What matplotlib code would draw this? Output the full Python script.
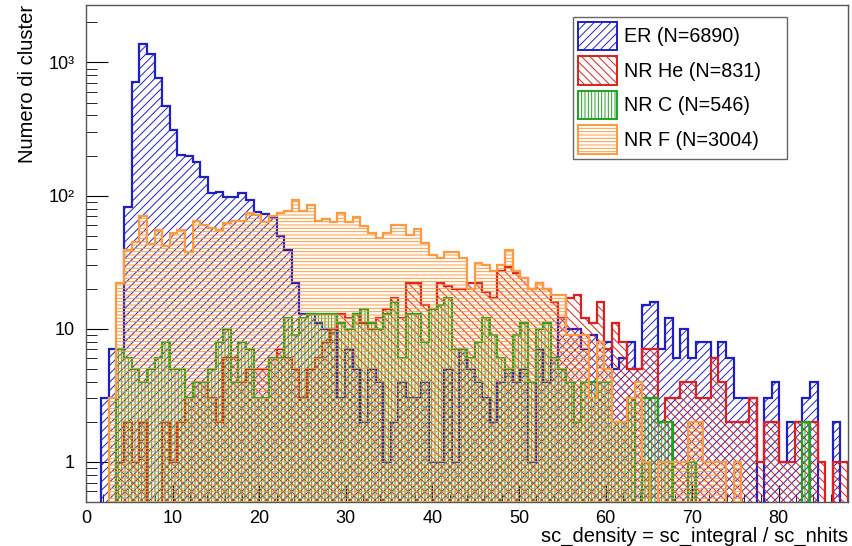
import numpy as np
import matplotlib
matplotlib.use("Agg")
import matplotlib.pyplot as plt
from matplotlib.patches import Patch

plt.rcParams['font.family'] = ['Liberation Sans', 'DejaVu Sans']
plt.rcParams['hatch.linewidth'] = 0.7

# 100 bins between 0 and 88
bin_lo = 0.0
bin_hi = 88.0

er = [0, 0, 3, 7, 7, 82, 712, 1377, 1158, 765,
      468, 313, 203, 200, 178, 137, 105, 107, 97, 97,
      105, 93, 75, 73, 68, 50, 39, 22, 13, 13,
      11, 10, 10, 3, 7, 5, 2, 5, 4, 1,
      2, 4, 3, 3, 4, 1, 1, 5, 1, 7,
      5, 4, 3, 2, 4, 5, 4, 5, 1, 7,
      4, 6, 12, 10, 10, 7, 9, 8, 8, 5,
      6, 8, 5, 15, 16, 7, 12, 6, 10, 6,
      8, 8, 6, 8, 6, 3, 3, 3, 0, 3,
      4, 1, 2, 2, 3, 4, 0, 0, 2, 0]

nr_he = [0, 0, 0, 0, 1, 2, 1, 2, 0, 0,
         2, 1, 2, 3, 4, 4, 3, 2, 6, 6,
         4, 5, 5, 5, 6, 7, 6, 5, 3, 5,
         6, 8, 10, 13, 12, 13, 11, 10, 12, 14,
         17, 12, 22, 22, 15, 14, 22, 21, 20, 20,
         22, 22, 19, 17, 27, 29, 26, 24, 20, 22,
         20, 16, 12, 17, 18, 12, 11, 16, 7, 11,
         8, 5, 5, 7, 7, 2, 3, 3, 4, 4,
         3, 3, 6, 4, 2, 2, 2, 3, 1, 2,
         2, 1, 1, 2, 2, 2, 1, 0, 1, 1]

nr_c = [0, 0, 0, 0, 7, 6, 5, 4, 5, 6,
        8, 5, 5, 3, 4, 4, 5, 8, 10, 4,
        8, 7, 3, 3, 6, 6, 12, 9, 12, 13,
        13, 13, 13, 11, 10, 13, 14, 11, 10, 13,
        16, 6, 13, 13, 8, 14, 15, 17, 7, 7,
        6, 8, 12, 9, 6, 5, 9, 11, 4, 10,
        11, 6, 5, 4, 2, 4, 4, 4, 4, 2,
        2, 3, 0, 3, 3, 2, 2, 0, 0, 1,
        0, 0, 0, 0, 0, 0, 0, 0, 0, 0,
        0, 0, 0, 0, 2, 0, 0, 0, 0, 0]

nr_f = [0, 0, 0, 3, 22, 39, 45, 70, 43, 55,
        42, 52, 55, 38, 64, 60, 57, 55, 62, 64,
        64, 74, 72, 63, 70, 74, 76, 93, 76, 85,
        64, 67, 63, 74, 63, 69, 59, 52, 48, 52,
        60, 60, 51, 56, 44, 36, 34, 38, 38, 34,
        20, 31, 30, 27, 30, 39, 27, 24, 20, 22,
        20, 18, 18, 9, 9, 9, 3, 8, 5, 2,
        2, 3, 4, 1, 0, 1, 1, 1, 1, 2,
        2, 1, 1, 1, 0, 1, 0, 0, 0, 0,
        0, 0, 0, 0, 0, 0, 0, 0, 0, 0]

labels = ["ER (N=6890)", "NR He (N=831)", "NR C (N=546)", "NR F (N=3004)"]
colors = ["#1f1fc8", "#dc2020", "#22a022", "#ff9a40"]
hatches = ["////", "\\\\\\\\", "|||||", "-----"]

edges = np.linspace(bin_lo, bin_hi, len(er) + 1)

fig = plt.figure(figsize=(8.52, 5.46), dpi=100)
ax = fig.add_axes([86 / 852, 1 - 502 / 546, 762 / 852, 497 / 546])
ax.set_yscale("log")

floor = 1e-3
z = 2
for vals, col, h in zip([er, nr_he, nr_c, nr_f], colors, hatches):
    v = np.array(vals, dtype=float)
    v = np.where(v > 0, v, floor)
    ax.stairs(v, edges, baseline=floor, fill=True, facecolor="none",
              edgecolor=col, hatch=h, linewidth=0, zorder=z)
    ax.stairs(v, edges, baseline=floor, fill=False, color=col,
              linewidth=1.6, zorder=z + 1)
    z += 2

ax.set_xlim(0, 88)
ax.set_ylim(0.5, 2700)

ax.set_xticks(np.arange(0, 81, 10))
ax.set_xticks(np.arange(0, 89, 2), minor=True)
ax.set_yticks([1, 10, 100, 1000])
ax.set_yticklabels(["1", "10", "10\u00b2", "10\u00b3"])
ax.tick_params(axis="both", which="both", direction="in", top=False,
               right=False, labelsize=13)
ax.tick_params(axis="y", which="major", length=16, pad=8)
ax.tick_params(axis="y", which="minor", length=8)
ax.tick_params(axis="x", which="major", length=12, pad=6)
ax.tick_params(axis="x", which="minor", length=6)
for s in ax.spines.values():
    s.set_color("#555555")
    s.set_linewidth(1.0)

ax.set_ylabel("Numero di cluster", fontsize=14.5, loc="top")
ax.yaxis.set_label_coords(-0.064, 1.0)
ax.set_xlabel("sc_density = sc_integral / sc_nhits", fontsize=14.5, loc="right")
ax.xaxis.set_label_coords(1.0, -0.05)

handles = [Patch(facecolor="none", edgecolor=c, hatch=h, linewidth=1.4)
           for c, h in zip(colors, hatches)]
leg = ax.legend(handles, labels, loc="upper left",
                bbox_to_anchor=(0.639, 0.688, 0.281, 0.288), mode="expand",
                fontsize=14.2, frameon=True, fancybox=False, framealpha=1,
                edgecolor="#666666", handlelength=2.0, handleheight=1.85,
                labelspacing=0.3, handletextpad=0.35, borderpad=0.25,
                borderaxespad=0)
leg.get_frame().set_linewidth(1.0)
leg.set_zorder(20)

fig.savefig("out.png", dpi=100)
